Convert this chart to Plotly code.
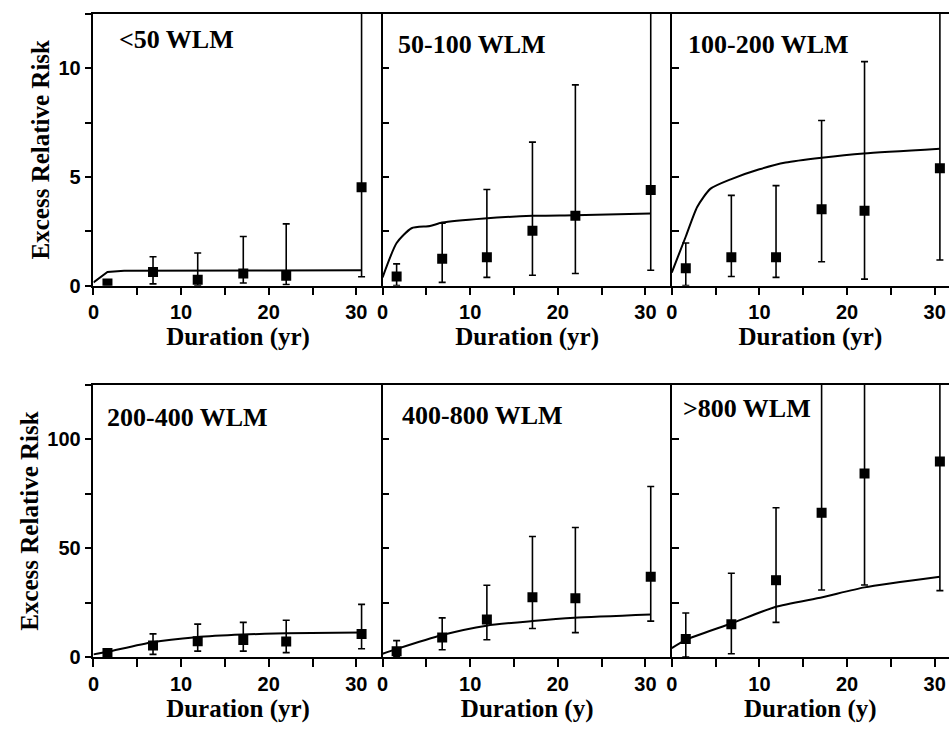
import plotly.graph_objects as go

# ---------------- data ----------------
duration = [1.6, 6.8, 11.9, 17.1, 22.0, 30.6]

panel_labels = ["<50 WLM", "50-100 WLM", "100-200 WLM",
                "200-400 WLM", "400-800 WLM", ">800 WLM"]
x_titles = ["Duration (yr)", "Duration (yr)", "Duration (yr)",
            "Duration (yr)", "Duration (y)", "Duration (y)"]

# observed excess relative risk, with lower / upper confidence limits
err_lt50 = [0.10, 0.63, 0.27, 0.56, 0.45, 4.52]
lo_lt50 = [0.05, 0.08, 0.00, 0.12, 0.05, 0.41]
hi_lt50 = [0.20, 1.33, 1.50, 2.26, 2.84, 15.0]

err_50_100 = [0.42, 1.24, 1.30, 2.52, 3.21, 4.40]
lo_50_100 = [0.00, 0.15, 0.38, 0.48, 0.56, 0.71]
hi_50_100 = [1.00, 2.87, 4.42, 6.60, 9.23, 15.0]

err_100_200 = [0.80, 1.31, 1.31, 3.51, 3.44, 5.40]
lo_100_200 = [0.00, 0.42, 0.38, 1.10, 0.30, 1.18]
hi_100_200 = [1.96, 4.15, 4.60, 7.59, 10.3, 15.0]

err_200_400 = [1.8, 5.3, 7.25, 7.85, 7.1, 10.6]
lo_200_400 = [1.0, 1.2, 2.7, 2.7, 2.0, 3.8]
hi_200_400 = [3.5, 10.6, 15.1, 15.9, 16.9, 24.2]

err_400_800 = [2.6, 8.9, 17.2, 27.5, 27.0, 36.9]
lo_400_800 = [0.3, 3.3, 7.9, 13.1, 11.2, 16.5]
hi_400_800 = [7.5, 18.0, 33.0, 55.4, 59.5, 78.4]

err_gt800 = [8.3, 15.1, 35.3, 66.3, 84.4, 89.9]
lo_gt800 = [0.0, 1.5, 15.9, 30.8, 33.1, 30.5]
hi_gt800 = [20.2, 38.5, 68.6, 200.0, 200.0, 200.0]

# fitted model curves
fit_x_lt50 = [0, 1.6, 3.5, 10, 20, 30.6]
fit_y_lt50 = [0.15, 0.63, 0.68, 0.70, 0.70, 0.71]

fit_x_50_100 = [0, 1.6, 3.3, 5.4, 6.8, 11.6, 17.1, 21.9, 30.6]
fit_y_50_100 = [0.38, 1.96, 2.64, 2.74, 2.90, 3.09, 3.21, 3.24, 3.32]

fit_x_100_200 = [0, 1.6, 2.9, 4.4, 6.8, 10, 13, 17.1, 21.9, 30.6]
fit_y_100_200 = [0.6, 2.26, 3.62, 4.45, 4.9, 5.35, 5.66, 5.88, 6.08, 6.3]

fit_x_200_400 = [0, 1.6, 6.7, 11.7, 17, 22, 30.6]
fit_y_200_400 = [1.2, 2.4, 6.8, 9.1, 10.3, 10.9, 11.3]

fit_x_400_800 = [0, 1.55, 6.8, 11.85, 17.1, 21.9, 30.6]
fit_y_400_800 = [1.5, 3.6, 10.1, 14.4, 16.5, 18.0, 19.5]

fit_x_gt800 = [0, 1.6, 6.8, 11.8, 17.2, 22, 30.6]
fit_y_gt800 = [4.1, 7.9, 15.4, 23.0, 27.5, 32.0, 36.9]

obs = [err_lt50, err_50_100, err_100_200, err_200_400, err_400_800, err_gt800]
los = [lo_lt50, lo_50_100, lo_100_200, lo_200_400, lo_400_800, lo_gt800]
his = [hi_lt50, hi_50_100, hi_100_200, hi_200_400, hi_400_800, hi_gt800]
fits_x = [fit_x_lt50, fit_x_50_100, fit_x_100_200, fit_x_200_400, fit_x_400_800, fit_x_gt800]
fits_y = [fit_y_lt50, fit_y_50_100, fit_y_100_200, fit_y_200_400, fit_y_400_800, fit_y_gt800]

# ---------------- layout geometry ----------------
W, H = 949, 732
px_per_unit = 291 / 33.0
col_px = [(88, 379), (379, 670), (670, 949)]
row_px = [(14, 290), (391, 667)]
y_ranges = [[0, 12.5], [0, 125]]
label_pos = [(112, 40), (392, 45), (684, 45), (100, 424), (397, 422), (679, 415)]

fig = go.Figure()
tick_font = dict(family="Liberation Sans", size=20, color="black", weight="bold")
title_font = dict(family="Liberation Serif", size=25, color="black", weight="bold")
label_font = dict(family="Liberation Serif", size=26, color="black", weight="bold")

for i in range(6):
    r, c = divmod(i, 3)
    n = i + 1
    xa = "x" if n == 1 else f"x{n}"
    ya = "y" if n == 1 else f"y{n}"
    up = [h - v for h, v in zip(his[i], obs[i])]
    dn = [v - l for v, l in zip(obs[i], los[i])]
    fig.add_trace(go.Scatter(
        x=fits_x[i], y=fits_y[i], mode="lines",
        line=dict(color="black", width=2,
                  shape="linear" if i == 0 else "spline", smoothing=0.6),
        xaxis=xa, yaxis=ya, showlegend=False, hoverinfo="skip"))
    fig.add_trace(go.Scatter(
        x=duration, y=obs[i], mode="markers",
        marker=dict(symbol="square", size=10, color="black"),
        error_y=dict(type="data", symmetric=False, array=up, arrayminus=dn,
                     color="black", thickness=1.6, width=3.5),
        xaxis=xa, yaxis=ya, showlegend=False))

    x0, x1 = col_px[c]
    yt, yb = row_px[r]
    xrange = [0, (x1 - x0) / px_per_unit]
    first = (c == 0)
    xkey = "xaxis" if n == 1 else f"xaxis{n}"
    ykey = "yaxis" if n == 1 else f"yaxis{n}"
    fig.layout[xkey] = dict(
        domain=[x0 / W, x1 / W], anchor=ya, range=xrange,
        showline=True, linecolor="black", linewidth=1.6, mirror=True,
        showgrid=False, zeroline=False,
        tickmode="linear", tick0=0, dtick=10,
        ticks="outside", ticklen=8, tickwidth=1.5, tickcolor="black",
        minor=dict(dtick=5, tick0=0, ticks="outside", ticklen=8,
                   tickwidth=1.5, tickcolor="black"),
        tickfont=tick_font,
        title=dict(text=x_titles[i], font=title_font, standoff=4),
        fixedrange=True)
    ymaj = 5 if r == 0 else 50
    fig.layout[ykey] = dict(
        domain=[1 - yb / H, 1 - yt / H], anchor=xa, range=y_ranges[r],
        showline=True, linecolor="black", linewidth=1.6, mirror=False,
        showgrid=False, zeroline=False,
        tickmode="linear", tick0=0, dtick=ymaj,
        ticks="outside" if first else "inside", ticklen=7,
        tickwidth=1.5, tickcolor="black",
        minor=dict(dtick=ymaj / 2, tick0=0,
                   ticks="outside" if first else "inside", ticklen=7,
                   tickwidth=1.5, tickcolor="black"),
        showticklabels=first,
        tickfont=tick_font,
        title=dict(text="Excess Relative Risk" if first else "",
                   font=title_font, standoff=2),
        fixedrange=True)

    lx, ly = label_pos[i]
    fig.add_annotation(text=panel_labels[i], xref="paper", yref="paper",
                       x=lx / W, y=1 - ly / H, xanchor="left", yanchor="middle",
                       showarrow=False, font=label_font)

fig.update_layout(width=W, height=H, margin=dict(l=0, r=0, t=0, b=0),
                  paper_bgcolor="white", plot_bgcolor="white")

fig.write_html("out.html",
               config={"displayModeBar": False},
               post_script="document.body.style.margin='0';"
                           "document.body.style.overflow='hidden';")
